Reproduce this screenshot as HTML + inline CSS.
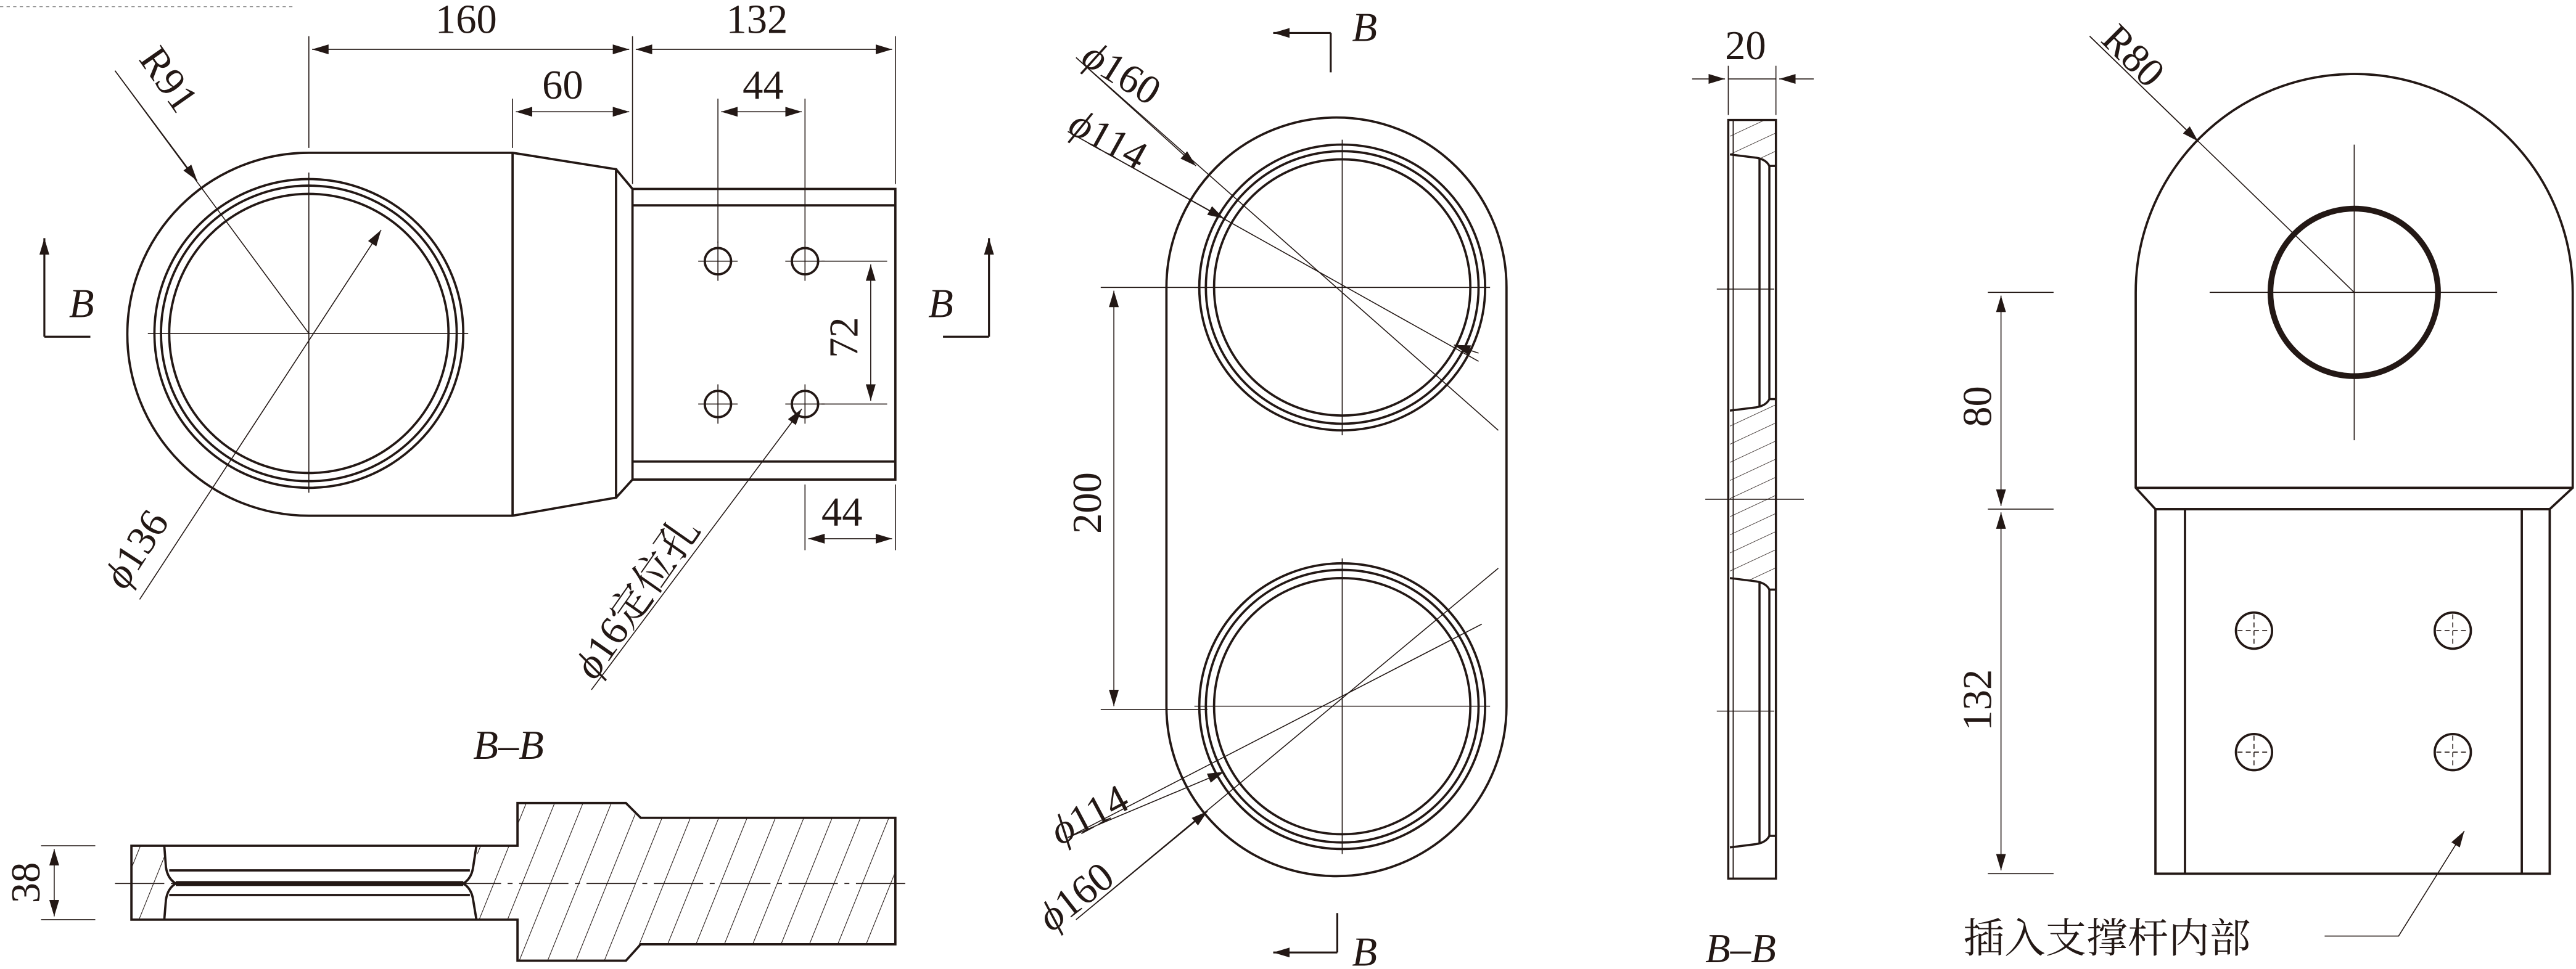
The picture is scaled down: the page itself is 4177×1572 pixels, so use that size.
<!DOCTYPE html>
<html><head><meta charset="utf-8"><style>
html,body{margin:0;padding:0;background:#fff;}
svg{display:block;}
text{font-family:"Liberation Serif","Noto Serif CJK SC",serif;fill:#231815;}
</style></head><body>
<svg width="4177" height="1572" viewBox="0 0 1568 590" xmlns="http://www.w3.org/2000/svg">
<defs>
<marker id="a" viewBox="0 0 10 6" refX="10" refY="3" markerWidth="10" markerHeight="6" orient="auto-start-reverse" markerUnits="userSpaceOnUse"><path d="M0,0 L10,3 L0,6 z" fill="#231815"/></marker>
<pattern id="h" width="16" height="16" patternUnits="userSpaceOnUse" patternTransform="rotate(22)"><line x1="0" y1="0" x2="0" y2="16" stroke="#231815" stroke-width="0.8"/></pattern>
<pattern id="h2" width="10" height="10" patternUnits="userSpaceOnUse" patternTransform="rotate(65)"><line x1="0" y1="0" x2="0" y2="10" stroke="#231815" stroke-width="0.6"/></pattern>
</defs>
<g fill="none" stroke="#231815">
<line x1="0" y1="4" x2="180" y2="4" stroke-width="0.5" stroke-dasharray="2,2" stroke="#888"/>
<!-- VIEW 1 -->
<g stroke-width="1.4">
<path d="M188,93 A110.5,110.5 0 0 0 188,314 L312,314 L375,303 L375,103 L312,93 Z"/>
<line x1="312" y1="93" x2="312" y2="314"/>
<rect x="385" y="115" width="160" height="177"/>
<line x1="375" y1="103" x2="385" y2="115"/><line x1="375" y1="303" x2="385" y2="292"/>
<line x1="385" y1="125" x2="545" y2="125"/><line x1="385" y1="281" x2="545" y2="281"/>
<circle cx="188" cy="203" r="94"/><circle cx="188" cy="203" r="90"/><circle cx="188" cy="203" r="85"/>
<circle cx="437" cy="159" r="8"/><circle cx="490" cy="159" r="8"/><circle cx="437" cy="246" r="8"/><circle cx="490" cy="246" r="8"/>
</g>
<g stroke-width="0.6">
<line x1="90" y1="203" x2="285" y2="203"/><line x1="188" y1="105" x2="188" y2="300"/>
<path d="M425,159h24M478,159h24M425,246h24M478,246h24M437,147v24M490,147v24M437,234v24M490,234v24"/>
<line x1="188" y1="22" x2="188" y2="90"/><line x1="385" y1="22" x2="385" y2="112"/><line x1="545" y1="22" x2="545" y2="112"/>
<line x1="312" y1="60" x2="312" y2="90"/><line x1="437" y1="60" x2="437" y2="148"/><line x1="490" y1="60" x2="490" y2="148"/>
<line x1="190" y1="30" x2="383" y2="30" marker-start="url(#a)" marker-end="url(#a)"/>
<line x1="387" y1="30" x2="543" y2="30" marker-start="url(#a)" marker-end="url(#a)"/>
<line x1="314" y1="68" x2="383" y2="68" marker-start="url(#a)" marker-end="url(#a)"/>
<line x1="439" y1="68" x2="488" y2="68" marker-start="url(#a)" marker-end="url(#a)"/>
<line x1="500" y1="159" x2="540" y2="159"/><line x1="500" y1="246" x2="540" y2="246"/>
<line x1="530" y1="161" x2="530" y2="244" marker-start="url(#a)" marker-end="url(#a)"/>
<line x1="490" y1="295" x2="490" y2="335"/><line x1="545" y1="295" x2="545" y2="335"/>
<line x1="492" y1="328" x2="543" y2="328" marker-start="url(#a)" marker-end="url(#a)"/>
<line x1="70" y1="43" x2="188" y2="203"/><line x1="70" y1="43" x2="120" y2="110" marker-end="url(#a)"/>
<line x1="85" y1="365" x2="232" y2="140" marker-end="url(#a)"/>
<line x1="360" y1="420" x2="488" y2="249" marker-end="url(#a)"/>
</g>
<g stroke-width="1.2">
<line x1="27" y1="205" x2="27" y2="145" marker-end="url(#a)"/><line x1="27" y1="205" x2="55" y2="205"/>
<line x1="602" y1="205" x2="602" y2="145" marker-end="url(#a)"/><line x1="602" y1="205" x2="574" y2="205"/>
</g>
<!-- SECTION B-B left -->
<path d="M290,515 L315,515 L315,489 L381,489 L390,498 L545,498 L545,575 L390,575 L381,585 L315,585 L315,560 L290,560 L292,545 L300,538 L292,530 Z" fill="url(#h)" stroke="none"/>
<path d="M80,515 L100,515 L100,530 L94,538 L100,545 L100,560 L80,560 Z" fill="url(#h)" stroke="none"/>
<g stroke-width="1.4">
<path d="M80,515 L315,515 L315,489 L381,489 L390,498 L545,498 L545,575 L390,575 L381,585 L315,585 L315,560 L80,560 Z"/>
<path d="M100,515 L101,528 Q102,535 107,538 Q102,541 101,548 L100,560"/>
<path d="M290,515 L288,528 Q287,535 282,538 Q287,541 288,548 L290,560"/>
<path d="M103,530 L286,530 M103,545 L286,545"/>
</g>
<line x1="107" y1="538" x2="282" y2="538" stroke-width="3"/>
<g stroke-width="0.6">
<line x1="70" y1="538" x2="555" y2="538" stroke-dasharray="30,4,3,4"/>
<line x1="25" y1="515" x2="58" y2="515"/><line x1="25" y1="560" x2="58" y2="560"/>
<line x1="33" y1="517" x2="33" y2="558" marker-start="url(#a)" marker-end="url(#a)"/>
</g>
<!-- MIDDLE VIEW -->
<g stroke-width="1.4">
<path d="M710,175 A103.5,103.5 0 0 1 917,175 L917,430 A103.5,103.5 0 0 1 710,430 Z"/>
<circle cx="817" cy="175" r="87"/><circle cx="817" cy="175" r="83"/><circle cx="817" cy="175" r="78"/>
<circle cx="817" cy="430" r="87"/><circle cx="817" cy="430" r="83"/><circle cx="817" cy="430" r="78"/>
</g>
<g stroke-width="0.6">
<path d="M727,175h180M817,85v180M727,430h180M817,340v180"/>
<line x1="670" y1="175" x2="735" y2="175"/><line x1="670" y1="432" x2="735" y2="432"/>
<line x1="678" y1="177" x2="678" y2="430" marker-start="url(#a)" marker-end="url(#a)"/>
<line x1="655" y1="35" x2="912" y2="262"/><line x1="655" y1="35" x2="728" y2="101" marker-end="url(#a)"/>
<line x1="650" y1="80" x2="900" y2="220"/><line x1="650" y1="80" x2="745" y2="133" marker-end="url(#a)"/>
<line x1="900" y1="215" x2="885" y2="210" marker-end="url(#a)"/>
<line x1="655" y1="560" x2="912" y2="346"/><line x1="655" y1="560" x2="735" y2="494" marker-end="url(#a)"/>
<line x1="650" y1="510" x2="902" y2="380"/><line x1="650" y1="510" x2="745" y2="470" marker-end="url(#a)"/>
</g>
<g stroke-width="1.2">
<line x1="810" y1="44" x2="810" y2="20"/><line x1="810" y1="20" x2="775" y2="20" marker-end="url(#a)"/>
<line x1="814" y1="556" x2="814" y2="580"/><line x1="814" y1="580" x2="775" y2="580" marker-end="url(#a)"/>
</g>
<!-- SIDE SECTION -->
<path d="M1053,73 L1081,73 L1081,96 L1071,96 L1053,94 Z" fill="url(#h2)" stroke="none"/>
<path d="M1053,250 L1071,248 L1081,246 L1081,356 L1071,354 L1053,352 Z" fill="url(#h2)" stroke="none"/>
<g stroke-width="1.3">
<rect x="1052" y="73" width="29" height="462"/>
<line x1="1055" y1="73" x2="1055" y2="535" stroke-width="0.7"/>
<path d="M1053,94 L1069,96 Q1075,97 1077,101 L1081,101"/>
<path d="M1053,250 L1069,248 Q1075,247 1077,243 L1081,243"/>
<path d="M1053,352 L1069,354 Q1075,355 1077,359 L1081,359"/>
<path d="M1053,516 L1069,514 Q1075,513 1077,509 L1081,509"/>
<path d="M1071,97 V248 M1077,101 V243 M1071,354 V514 M1077,359 V509"/>
</g>
<g stroke-width="0.6">
<path d="M1045,176h35M1038,304h60M1045,433h35"/>
<line x1="1052" y1="40" x2="1052" y2="70"/><line x1="1081" y1="40" x2="1081" y2="70"/>
<line x1="1030" y1="48" x2="1050" y2="48" marker-end="url(#a)"/><line x1="1104" y1="48" x2="1083" y2="48" marker-end="url(#a)"/>
<line x1="1052" y1="48" x2="1081" y2="48"/>
</g>
<!-- RIGHT VIEW -->
<g stroke-width="1.4">
<path d="M1300,178 A133,133 0 0 1 1566,178 L1566,297 L1552,310 L1312,310 L1300,297 Z"/>
<line x1="1300" y1="297" x2="1566" y2="297"/>
<rect x="1312" y="310" width="240" height="222"/>
<line x1="1330" y1="310" x2="1330" y2="532"/><line x1="1535" y1="310" x2="1535" y2="532"/>
<circle cx="1372" cy="384" r="11"/><circle cx="1493" cy="384" r="11"/><circle cx="1372" cy="458" r="11"/><circle cx="1493" cy="458" r="11"/>
</g>
<circle cx="1433" cy="178" r="51" stroke-width="3.5"/>
<g stroke-width="0.6">
<path d="M1345,178h175M1433,88v180"/>
<path d="M1362,384h20M1372,374v20M1483,384h20M1493,374v20M1362,458h20M1372,448v20M1483,458h20M1493,448v20" stroke-dasharray="3,2"/>
<line x1="1210" y1="178" x2="1250" y2="178"/><line x1="1210" y1="310" x2="1250" y2="310"/><line x1="1210" y1="532" x2="1250" y2="532"/>
<line x1="1218" y1="180" x2="1218" y2="308" marker-start="url(#a)" marker-end="url(#a)"/>
<line x1="1218" y1="312" x2="1218" y2="530" marker-start="url(#a)" marker-end="url(#a)"/>
<line x1="1272" y1="22" x2="1433" y2="178"/><line x1="1272" y1="22" x2="1338" y2="86" marker-end="url(#a)"/>
<path d="M1415,570 L1460,570 L1500,506" marker-end="url(#a)"/>
</g>
</g>
<!-- TEXT -->
<g font-size="25">
<text x="265" y="20">160</text><text x="442" y="20">132</text>
<text x="330" y="60">60</text><text x="452" y="60">44</text>
<text x="500" y="320">44</text>
<text transform="translate(522,218) rotate(-90)">72</text>
<text transform="translate(84,36) rotate(55)">R91</text>
<text transform="translate(76,360) rotate(-57)"><tspan font-style="italic">ϕ</tspan>136</text>
<text transform="translate(362,415) rotate(-55)"><tspan font-style="italic">ϕ</tspan>16定位孔</text>
<text x="42" y="193" font-style="italic">B</text><text x="565" y="193" font-style="italic">B</text>
<text x="288" y="462" font-style="italic">B–B</text>
<text transform="translate(24,550) rotate(-90)">38</text>
<text x="823" y="25" font-style="italic">B</text><text x="823" y="588" font-style="italic">B</text>
<text transform="translate(670,325) rotate(-90)">200</text>
<text transform="translate(657,38) rotate(32)"><tspan font-style="italic">ϕ</tspan>160</text>
<text transform="translate(649,80) rotate(29)"><tspan font-style="italic">ϕ</tspan>114</text>
<text transform="translate(645,515) rotate(-28)"><tspan font-style="italic">ϕ</tspan>114</text>
<text transform="translate(640,568) rotate(-38)"><tspan font-style="italic">ϕ</tspan>160</text>
<text x="1050" y="36">20</text>
<text x="1038" y="586" font-style="italic">B–B</text>
<text transform="translate(1278,25) rotate(45)">R80</text>
<text transform="translate(1212,260) rotate(-90)">80</text>
<text transform="translate(1212,445) rotate(-90)">132</text>
<text x="1195" y="580" font-family="'Noto Serif CJK SC','Noto Sans CJK SC',serif">插入支撑杆内部</text>
</g>
</svg>
</body></html>
